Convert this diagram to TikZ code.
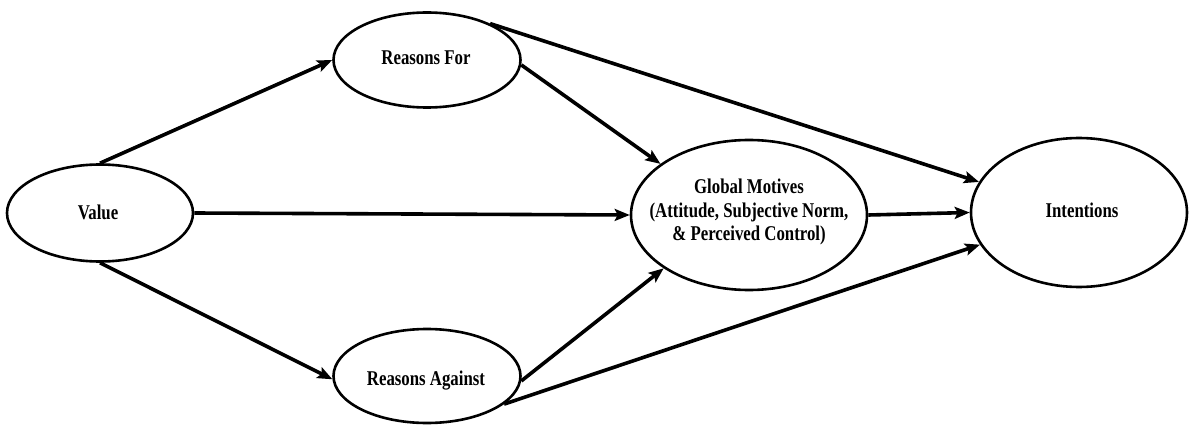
\documentclass[tikz,border=0pt]{standalone}
\usepackage{fontspec}
\setmainfont[FakeStretch=0.8]{Liberation Serif}
\usetikzlibrary{shapes.geometric,arrows.meta}
\begin{document}
\begin{tikzpicture}[x=1pt,y=-1pt,
  oval/.style={draw, ellipse, line width=2.6pt, inner sep=0pt},
  lbl/.style={font=\fontsize{21}{23.5}\selectfont\bfseries, align=center, inner sep=0pt},
  link/.style={line width=3.6pt, -{Stealth[length=15pt,width=12pt,inset=3pt]}}]
\useasboundingbox (0,0) rectangle (1189,425);

% construct ellipses
\node[oval, minimum width=186pt, minimum height=97pt]  (val) at (100,213)  {};
\node[oval, minimum width=187pt, minimum height=95pt]  (rf)  at (427,60)   {};
\node[oval, minimum width=187pt, minimum height=94pt]  (ra)  at (427,376)  {};
\node[oval, minimum width=236pt, minimum height=150pt] (gm)  at (749,215)  {};
\node[oval, minimum width=216pt, minimum height=149pt] (int) at (1079,212.5) {};

% labels
\node[lbl] (valt) at (98,212)   {Value};
\node[lbl] (rft)  at (426,58)   {Reasons For};
\node[lbl] (rat)  at (426,381)  {Reasons Against};
\node[lbl] (gmt)  at (749,212)  {Global Motives\\(Attitude, Subjective Norm,\\\& Perceived Control)};
\node[lbl] (intt) at (1082,210) {Intentions};

% paths
\draw[link] (val.north) -- (rf.west);
\draw[link] (val.south) -- (ra.182);
\draw[link] (val.east)  -- (gm.west);
\draw[link] (rf.-3)     -- (gm.150);
\draw[link] (rf.30)     -- (int.163);
\draw[link] (ra.357)    -- (gm.212);
\draw[link] (ra.340)    -- (int.198);
\draw[link] (gm.east)   -- (int.west);
\end{tikzpicture}
\end{document}
